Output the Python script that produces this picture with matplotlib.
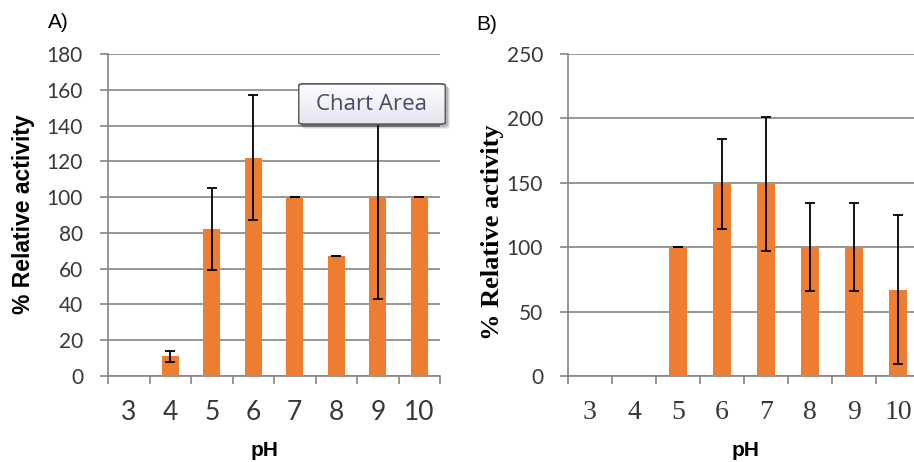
import numpy as np
import matplotlib
matplotlib.use("Agg")
import matplotlib.pyplot as plt
from matplotlib.patches import FancyBboxPatch

ph = ["3", "4", "5", "6", "7", "8", "9", "10"]

# panel A: relative activity and spread per pH
act_a = [0, 11, 82, 122, 100, 67, 100, 100]
err_a = [0, 3, 23, 35, 0, 0, 57, 0]

# panel B
act_b = [0, 0, 100, 149, 149, 100, 100, 67]
err_b = [0, 0, 0, 35, 52, 34, 34, 58]

W, H, DPI = 914, 462, 100
BAR = "#ED7D31"
GRID = "#858585"
TICK_TXT = "#383838"


def fx(px):
    return px / W


def fy(py):
    return 1 - py / H


def draw_panel(ax, vals, errs, ymax, ystep, xfont):
    x = np.arange(len(ph))
    ax.bar(x, vals, width=0.41, color=BAR, zorder=3)
    keep = np.array(vals) > 0
    ax.errorbar(x[keep], np.array(vals)[keep], yerr=np.array(errs)[keep],
                fmt="none", ecolor="black", elinewidth=1.3, capsize=3.5,
                capthick=1.3, zorder=4)
    ax.set_xlim(-0.5, len(ph) - 0.5)
    ax.set_ylim(0, ymax)
    ax.set_yticks(np.arange(0, ymax + 1, ystep))
    ax.yaxis.grid(True, color=GRID, linewidth=1.2, zorder=0)
    ax.set_axisbelow(True)
    for s in ["top", "right"]:
        ax.spines[s].set_visible(False)
    for s in ["left", "bottom"]:
        ax.spines[s].set_color(GRID)
        ax.spines[s].set_linewidth(1.2)
    ax.set_xticks(x)
    ax.set_xticklabels(ph, **xfont)
    ax.set_xticks(np.arange(-0.5, len(ph)), minor=True)
    ax.tick_params(axis="x", which="major", length=0, pad=17)
    ax.tick_params(axis="x", which="minor", length=6, width=1.2,
                   color=GRID, direction="out")
    ax.tick_params(axis="y", length=6, width=1.2, color=GRID, pad=12,
                   labelsize=15, labelcolor=TICK_TXT)
    for t in ax.get_yticklabels():
        t.set_family("Lato")


fig = plt.figure(figsize=(W / DPI, H / DPI), dpi=DPI)

ax_a = fig.add_axes([fx(108), fy(376), fx(440 - 108), (376 - 54) / H])
draw_panel(ax_a, act_a, err_a, 180, 20,
           dict(family="Lato", fontsize=19, color=TICK_TXT))

ax_b = fig.add_axes([fx(568), fy(376), fx(352), (376 - 54) / H])
draw_panel(ax_b, act_b, err_b, 250, 50,
           dict(family="Liberation Serif", fontsize=20, color=TICK_TXT))

# panel letters
fig.text(fx(48), fy(22), "A)", fontsize=15, family="Liberation Sans",
         va="center")
fig.text(fx(476), fy(24), "B)", fontsize=15, family="Liberation Sans",
         va="center")

# axis titles
fig.text(fx(24), fy(214), "% Relative activity", rotation=90,
         fontsize=16.5, fontweight="bold", family="Liberation Sans",
         ha="center", va="center")
fig.text(fx(265), fy(460), "pH", fontsize=15, fontweight="bold",
         family="Liberation Sans", ha="center", va="bottom")
fig.text(fx(492), fy(232), "% Relative activity", rotation=90,
         fontsize=19, fontweight="bold", family="Liberation Serif",
         ha="center", va="center")
fig.text(fx(746), fy(460), "pH", fontsize=15, fontweight="bold",
         family="Liberation Sans", ha="center", va="bottom")

# "Chart Area" hover tag over panel A
bx0, by0, bx1, by1 = 298, 83, 446, 125
for off, a in [(4, 0.08), (3, 0.10), (2, 0.14)]:
    sh = FancyBboxPatch((fx(bx0 + off), fy(by1 + off)), fx(bx1 - bx0),
                        (by1 - by0) / H,
                        boxstyle="round,pad=0,rounding_size=0.006",
                        transform=fig.transFigure, facecolor="black",
                        edgecolor="none", alpha=a, zorder=9)
    fig.patches.append(sh)

tag = fig.add_axes([fx(bx0), fy(by1), fx(bx1 - bx0), (by1 - by0) / H],
                   zorder=10)
tag.set_axis_off()
tag.set_xlim(0, 1)
tag.set_ylim(0, 1)
grad = np.linspace(0, 1, 64).reshape(-1, 1)
img = tag.imshow(grad, extent=[0, 1, 0, 1], aspect="auto", origin="lower",
                 cmap=matplotlib.colors.LinearSegmentedColormap.from_list(
                     "tag", ["#e4e4f0", "#fdfdff"]))
frame = FancyBboxPatch((0.004, 0.02), 0.992, 0.96,
                       boxstyle="round,pad=0,rounding_size=0.04",
                       facecolor="none", edgecolor="#5e5e5e",
                       linewidth=1.3, transform=tag.transAxes)
tag.add_patch(frame)
img.set_clip_path(frame)
tag.text(0.5, 0.5, "Chart Area", fontsize=16, family="Open Sans",
         color="#45496a", ha="center", va="center")

fig.savefig("out.png", dpi=DPI)
